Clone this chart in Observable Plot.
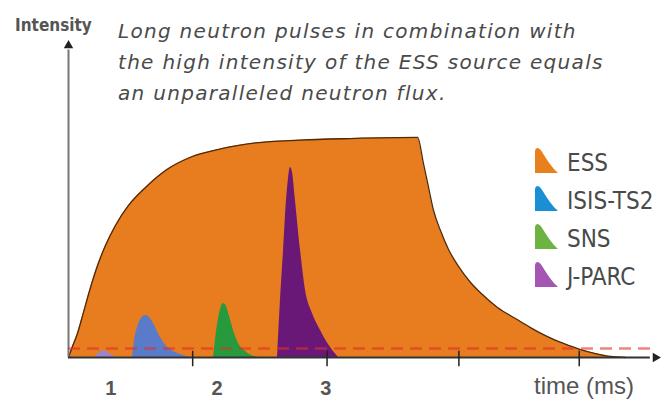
<!DOCTYPE html>
<html>
<head>
<meta charset="utf-8">
<script src="https://cdn.jsdelivr.net/npm/d3@7"></script>
<script src="https://cdn.jsdelivr.net/npm/@observablehq/plot@0.6"></script>
<style>
  html, body { margin: 0; padding: 0; background: #fff; }
  #wrap { position: relative; width: 662px; height: 406px; overflow: hidden; }
  #wrap svg { position: absolute; left: 0; top: 0; }
  .ann { position: absolute; white-space: nowrap; color: #555; }
  #ylab { left: 15px; top: 15px; font: bold 17px "DejaVu Sans Condensed", "DejaVu Sans", sans-serif; color: #555; }
  #sub { left: 118px; top: 16px; font: oblique 20px "DejaVu Sans", sans-serif; letter-spacing: 1.3px; line-height: 31px; color: #4a4a4a; }
  #xlab { left: 534px; top: 372px; font: 24px "Liberation Sans", Arial, sans-serif; color: #555; }
  #legend { left: 535px; top: 147px; }
  .lg { position: absolute; left: 0; height: 26px; }
  .lg svg { position: absolute; left: 0; top: 0; }
  .lg span { position: absolute; left: 32px; top: 2px; font: 24px "Liberation Sans Narrow", "DejaVu Sans Condensed", sans-serif; color: #4a4a4a; }
</style>
</head>
<body>
<div id="wrap"></div>
<script>
// ---- data (time in ms, intensity relative to ESS plateau) ----
const essTime      = [0, 0.031, 0.070, 0.117, 0.172, 0.227, 0.289, 0.367, 0.469, 0.602, 0.758, 0.953, 1.188, 1.461, 1.813, 2.203, 2.727, 2.773, 2.813, 2.852, 2.906, 2.969, 3.047, 3.141, 3.234, 3.352, 3.492, 3.609, 3.742, 3.867, 4.0, 4.117, 4.234, 4.352];
const essIntensity = [0, 0.050, 0.109, 0.205, 0.318, 0.418, 0.509, 0.600, 0.691, 0.773, 0.850, 0.910, 0.948, 0.975, 0.988, 0.995, 1.0, 0.882, 0.773, 0.668, 0.577, 0.491, 0.414, 0.341, 0.286, 0.227, 0.177, 0.136, 0.095, 0.064, 0.036, 0.018, 0.005, 0];

const smallTime      = [0.211, 0.242, 0.273, 0.305, 0.359, 0.406];
const smallIntensity = [0, 0.023, 0.032, 0.023, 0.005, 0];

const isisTime      = [0.500, 0.516, 0.539, 0.570, 0.602, 0.633, 0.664, 0.703, 0.742, 0.797, 0.875, 0.953];
const isisIntensity = [0, 0.077, 0.136, 0.177, 0.191, 0.182, 0.155, 0.109, 0.068, 0.036, 0.014, 0];

const snsTime      = [1.133, 1.148, 1.172, 1.195, 1.211, 1.234, 1.258, 1.289, 1.328, 1.383, 1.477];
const snsIntensity = [0, 0.077, 0.177, 0.232, 0.245, 0.232, 0.186, 0.123, 0.064, 0.027, 0];

const jparcTime      = [1.633, 1.656, 1.680, 1.703, 1.719, 1.734, 1.750, 1.773, 1.813, 1.852, 1.906, 1.969, 2.047, 2.109];
const jparcIntensity = [0, 0.259, 0.486, 0.714, 0.814, 0.864, 0.841, 0.714, 0.486, 0.305, 0.200, 0.123, 0.045, 0];

const sources      = ["ESS", "ISIS-TS2", "SNS", "J-PARC"];
const legendColors = ["#e8801e", "#1b8fd4", "#6cb341", "#a555b2"];

const tickTimes      = [0.97, 2.02, 3.05, 3.99];
const tickLabels     = ["1", "2", "3"];
const tickLabelTimes = [0.33, 1.16, 2.01];

const fluxLevel = [0.041];
const timeMax = 4.586;
const intensityMax = 1.418;

const toRows = (t, v) => t.map((d, i) => ({time: d, intensity: v[i]}));
const ess = toRows(essTime, essIntensity);
const small = toRows(smallTime, smallIntensity);
const isis = toRows(isisTime, isisIntensity);
const sns = toRows(snsTime, snsIntensity);
const jparc = toRows(jparcTime, jparcIntensity);

const chart = Plot.plot({
  width: 662,
  height: 406,
  marginLeft: 68,
  marginRight: 7,
  marginTop: 45,
  marginBottom: 49,
  x: {domain: [0, timeMax], axis: null},
  y: {domain: [0, intensityMax], axis: null},
  style: {background: "transparent"},
  marks: [
    Plot.areaY(ess, {x: "time", y: "intensity", fill: "#e87d1f", curve: "monotone-x"}),
    Plot.line(ess, {x: "time", y: "intensity", stroke: "#4e2a0c", strokeWidth: 1.3, curve: "monotone-x"}),
    Plot.areaY(small, {x: "time", y: "intensity", fill: "#9b86cc", curve: "monotone-x"}),
    Plot.areaY(isis, {x: "time", y: "intensity", fill: "#5a7bc9", curve: "monotone-x"}),
    Plot.areaY(sns, {x: "time", y: "intensity", fill: "#269a3c", curve: "monotone-x"}),
    Plot.areaY(jparc, {x: "time", y: "intensity", fill: "#6a1878", curve: "monotone-x"}),
    // axes
    Plot.ruleX([0], {y1: 0, y2: intensityMax - 0.02, stroke: "#777", strokeWidth: 2}),
    Plot.ruleY([0], {x1: 0, x2: timeMax - 0.04, stroke: "#333", strokeWidth: 2}),
    Plot.dot([{time: 0, intensity: intensityMax}], {x: "time", y: "intensity", symbol: "triangle", r: 3.5, fill: "#222", stroke: null}),
    Plot.dot([{time: timeMax, intensity: 0}], {x: "time", y: "intensity", symbol: "triangle", rotate: 90, r: 3.5, fill: "#222", stroke: null}),
    Plot.ruleX(tickTimes, {y1: -0.042, y2: 0.028, stroke: "#222", strokeWidth: 1.5}),
    Plot.text(tickLabels, {x: (d, i) => tickLabelTimes[i], y: 0, text: d => d, dy: 31, fontSize: 20, fontWeight: "bold", fill: "#555", fontFamily: "Liberation Sans, Arial, sans-serif"}),
    // flux level
    Plot.ruleY(fluxLevel, {x1: 0, x2: 4.55, stroke: "#e0302a", strokeOpacity: 0.6, strokeWidth: 2.5, strokeDasharray: "12,7"})
  ]
});

const wrap = document.getElementById("wrap");
wrap.appendChild(chart);

function addDiv(id, html) {
  const d = document.createElement("div");
  d.className = "ann";
  d.id = id;
  d.innerHTML = html;
  wrap.appendChild(d);
  return d;
}
addDiv("ylab", "Intensity");
addDiv("sub", "Long neutron pulses in combination with<br>the high intensity of the ESS source equals<br>an unparalleled neutron flux.");
addDiv("xlab", "time (ms)");

const legend = addDiv("legend", "");
sources.forEach((s, i) => {
  const item = document.createElement("div");
  item.className = "lg";
  item.style.top = (i * 38) + "px";
  item.innerHTML = `<svg width="24" height="26" viewBox="0 0 24 26"><path d="M0 26 V4 Q0.5 0 4 1.5 C8 4 12 16 23 26 Z" fill="${legendColors[i]}"/></svg><span>${s}</span>`;
  legend.appendChild(item);
});
</script>
</body>
</html>
